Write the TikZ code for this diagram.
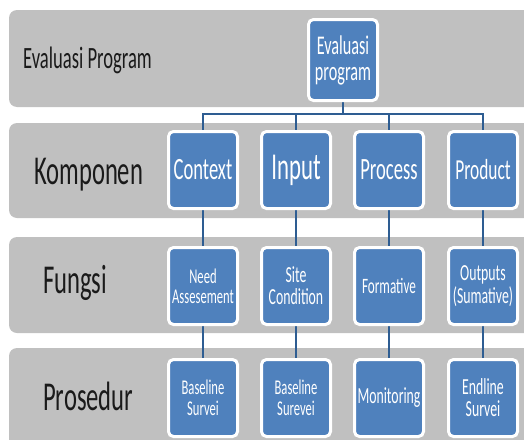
\documentclass[tikz,border=0pt]{standalone}
\usepackage{fontspec}
\setmainfont{Carlito}[FakeStretch=0.6]

\definecolor{bandgray}{HTML}{C0C0C0}
\definecolor{boxblue}{HTML}{4F81BD}
\definecolor{linkblue}{HTML}{2E5D92}
\definecolor{labeltext}{HTML}{1A1A1A}

\pgfdeclarelayer{bands}
\pgfdeclarelayer{links}
\pgfsetlayers{bands,links,main}

\tikzset{
  rowband/.style={fill=bandgray, rounded corners=8pt},
  blk/.style={rectangle, rounded corners=5pt, fill=boxblue, draw=white,
    line width=3pt, minimum width=69pt, minimum height=77pt,
    text=white, align=center, inner sep=0pt},
  link/.style={draw=linkblue, line width=2pt},
  rowlabel/.style={anchor=base west, text=labeltext, inner sep=0pt}
}

\begin{document}
\begin{tikzpicture}[x=1pt, y=-1pt]
\useasboundingbox (0,0) rectangle (524,439);

% row labels
\node[rowlabel, font=\fontsize{31}{31}\selectfont] (lev) at (23,68) {Evaluasi Program};
\node[rowlabel, font=\fontsize{41}{41}\selectfont] (lkom) at (34,184) {Komponen};
\node[rowlabel, font=\fontsize{41}{41}\selectfont] (lfun) at (43,293) {Fungsi};
\node[rowlabel, font=\fontsize{41}{41}\selectfont] (lpro) at (43,410) {Prosedur};

% root
\node[blk, minimum height=81pt, font=\fontsize{27}{26}\selectfont] (root) at (343,60) {Evaluasi\\program};

% components
\node[blk, font=\fontsize{31}{31}\selectfont] (ctx) at (203,170) {Context};
\node[blk, font=\fontsize{38}{38}\selectfont] (inp) at (296,170) {Input};
\node[blk, font=\fontsize{31}{31}\selectfont] (prc) at (389,170) {Process};
\node[blk, font=\fontsize{29}{29}\selectfont] (prd) at (483,170) {Product};

% functions
\node[blk, font=\fontsize{21}{20}\selectfont] (f1) at (203,286) {Need\\Assesement};
\node[blk, font=\fontsize{23}{22}\selectfont] (f2) at (296,286) {Site\\Condition};
\node[blk, font=\fontsize{22}{22}\selectfont] (f3) at (389,286) {Formative};
\node[blk, font=\fontsize{23}{23}\selectfont] (f4) at (483,286) {Outputs\\(Sumative)};

% procedures
\node[blk, font=\fontsize{21}{21}\selectfont] (p1) at (203,398) {Baseline\\Survei};
\node[blk, font=\fontsize{21}{21}\selectfont] (p2) at (296,398) {Baseline\\Surevei};
\node[blk, font=\fontsize{23}{23}\selectfont] (p3) at (389,398) {Monitoring};
\node[blk, font=\fontsize{23}{22}\selectfont] (p4) at (483,398) {Endline\\Survei};

\begin{pgfonlayer}{bands}
  \fill[rowband] (9,10) rectangle (545,107);
  \fill[rowband] (9,123) rectangle (545,218);
  \fill[rowband] (9,237) rectangle (545,333);
  \fill[rowband] (9,348) rectangle (545,470);
\end{pgfonlayer}

\begin{pgfonlayer}{links}
  \coordinate (bus) at (343,114);
  \draw[link] (root.south) -- (bus);
  \draw[link] (bus) -| (ctx.north);
  \draw[link] (bus) -| (inp.north);
  \draw[link] (bus) -| (prc.north);
  \draw[link] (bus) -| (prd.north);
  \draw[link] (ctx.south) -- (f1.north);
  \draw[link] (inp.south) -- (f2.north);
  \draw[link] (prc.south) -- (f3.north);
  \draw[link] (prd.south) -- (f4.north);
  \draw[link] (f1.south) -- (p1.north);
  \draw[link] (f2.south) -- (p2.north);
  \draw[link] (f3.south) -- (p3.north);
  \draw[link] (f4.south) -- (p4.north);
\end{pgfonlayer}
\end{tikzpicture}
\end{document}
